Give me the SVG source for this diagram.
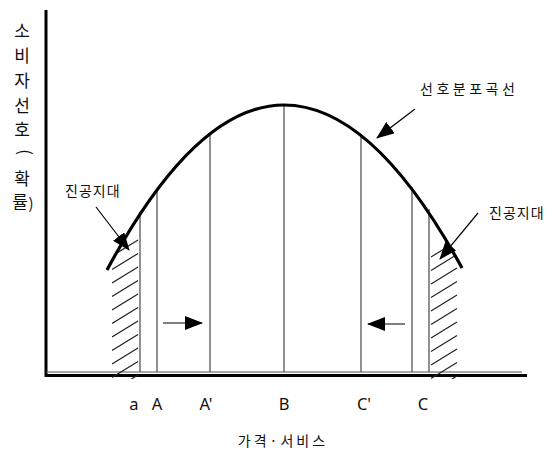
<svg xmlns="http://www.w3.org/2000/svg" width="559" height="451" viewBox="0 0 559 451">
<style>
.lbl{font-family:"Noto Sans","Noto Sans CJK KR",sans-serif;font-size:16.5px;fill:#111}
.kr{font-family:"Noto Sans CJK KR",sans-serif;font-size:14px;fill:#111}
.vl{stroke:#555;stroke-width:1.3;fill:none}
.hatch{stroke:#222;stroke-width:1.2}
.ptr{stroke:#000;stroke-width:1.2;fill:none}
</style>
<defs>
<marker id="ah" markerWidth="18" markerHeight="14" refX="17" refY="7" orient="auto" markerUnits="userSpaceOnUse">
<path d="M0,0 L18,7 L0,14 Z" fill="#000"/>
</marker>
<clipPath id="underL"><path d="M107,270 Q195.5,105 284,105 L284,379 L107,379 Z"/></clipPath>
<clipPath id="underR"><path d="M284,105 Q373,105 462,268 L462,379 L284,379 Z"/></clipPath>
<clipPath id="rl"><rect x="112" y="200" width="27" height="179"/></clipPath>
<clipPath id="rr"><rect x="430" y="200" width="28" height="179"/></clipPath>
</defs>
<g id="axes">
<line x1="46" y1="10" x2="46" y2="377" stroke="#000" stroke-width="3"/>
<line x1="46" y1="375.5" x2="527" y2="375.5" stroke="#000" stroke-width="3"/>
<line x1="46" y1="372" x2="522" y2="372" stroke="#555" stroke-width="1.2"/>
</g>
<g id="verticals">
<line class="vl" x1="140" y1="212" x2="140" y2="372"/>
<line class="vl" x1="157" y1="190" x2="157" y2="372"/>
<line class="vl" x1="210" y1="133" x2="210" y2="372"/>
<line class="vl" x1="284" y1="105" x2="284" y2="372"/>
<line class="vl" x1="361" y1="136" x2="361" y2="372"/>
<line class="vl" x1="412" y1="187" x2="412" y2="372"/>
<line class="vl" x1="429" y1="209" x2="429" y2="372"/>
</g>
<g id="hatch-left" clip-path="url(#rl)">
<g clip-path="url(#underL)">
<line class="hatch" x1="112" y1="256" x2="138" y2="240"/>
<line class="hatch" x1="112" y1="269.5" x2="138" y2="253.5"/>
<line class="hatch" x1="112" y1="283" x2="138" y2="267"/>
<line class="hatch" x1="112" y1="296.5" x2="138" y2="280.5"/>
<line class="hatch" x1="112" y1="310" x2="138" y2="294"/>
<line class="hatch" x1="112" y1="323.5" x2="138" y2="307.5"/>
<line class="hatch" x1="112" y1="337" x2="138" y2="321"/>
<line class="hatch" x1="112" y1="350.5" x2="138" y2="334.5"/>
<line class="hatch" x1="112" y1="364" x2="138" y2="348"/>
<line class="hatch" x1="112" y1="377.5" x2="138" y2="361.5"/>
<line class="hatch" x1="112" y1="391" x2="138" y2="375"/>
</g>
</g>
<g id="hatch-right" clip-path="url(#rr)">
<g clip-path="url(#underR)">
<line class="hatch" x1="431" y1="257" x2="457" y2="241"/>
<line class="hatch" x1="431" y1="270.5" x2="457" y2="254.5"/>
<line class="hatch" x1="431" y1="284" x2="457" y2="268"/>
<line class="hatch" x1="431" y1="297.5" x2="457" y2="281.5"/>
<line class="hatch" x1="431" y1="311" x2="457" y2="295"/>
<line class="hatch" x1="431" y1="324.5" x2="457" y2="308.5"/>
<line class="hatch" x1="431" y1="338" x2="457" y2="322"/>
<line class="hatch" x1="431" y1="351.5" x2="457" y2="335.5"/>
<line class="hatch" x1="431" y1="365" x2="457" y2="349"/>
<line class="hatch" x1="431" y1="378.5" x2="457" y2="362.5"/>
<line class="hatch" x1="431" y1="392" x2="457" y2="376"/>
</g>
</g>
<g id="curve">
<path d="M107,270 Q195.5,105 284,105 Q373,105 462,268" fill="none" stroke="#000" stroke-width="3.2"/>
</g>
<g id="connectors">
<line class="ptr" x1="415" y1="109" x2="377" y2="138" marker-end="url(#ah)"/>
<line class="ptr" x1="96" y1="207" x2="129" y2="250" marker-end="url(#ah)"/>
<line class="ptr" x1="478" y1="213" x2="440" y2="259" marker-end="url(#ah)"/>
<line class="ptr" x1="163" y1="323" x2="202" y2="323" marker-end="url(#ah)"/>
<line class="ptr" x1="405" y1="324" x2="368" y2="324" marker-end="url(#ah)"/>
</g>
<g id="label-curve"><text class="kr" x="420" y="94" font-size="14.5" letter-spacing="3.5">선호분포곡선</text></g>
<g id="label-gap-left"><text class="kr" x="65" y="196" letter-spacing="1">진공지대</text></g>
<g id="label-gap-right"><text class="kr" x="489" y="218" letter-spacing="1">진공지대</text></g>
<g id="x-labels">
<text class="lbl" x="134" y="410" text-anchor="middle">a</text>
<text class="lbl" x="157" y="410" text-anchor="middle">A</text>
<text class="lbl" x="206" y="410" text-anchor="middle">A'</text>
<text class="lbl" x="284" y="410" text-anchor="middle">B</text>
<text class="lbl" x="364" y="410" text-anchor="middle">C'</text>
<text class="lbl" x="423" y="410" text-anchor="middle">C</text>
<text class="kr" x="283" y="446" text-anchor="middle" font-size="15.5" letter-spacing="3">가격·서비스</text>
</g>
<g id="y-label" font-family="Noto Sans CJK KR, sans-serif" font-size="17" fill="#111" text-anchor="middle">
<text x="22" y="37">소</text>
<text x="22" y="62">비</text>
<text x="22" y="87">자</text>
<text x="22" y="112">선</text>
<text x="22" y="136">호</text>
<text x="0" y="0" transform="translate(19,152) rotate(90)">(</text>
<text x="22" y="185">확</text>
<text x="20" y="208">률</text>
<text x="31" y="209" font-size="15">)</text>
</g>
</svg>
